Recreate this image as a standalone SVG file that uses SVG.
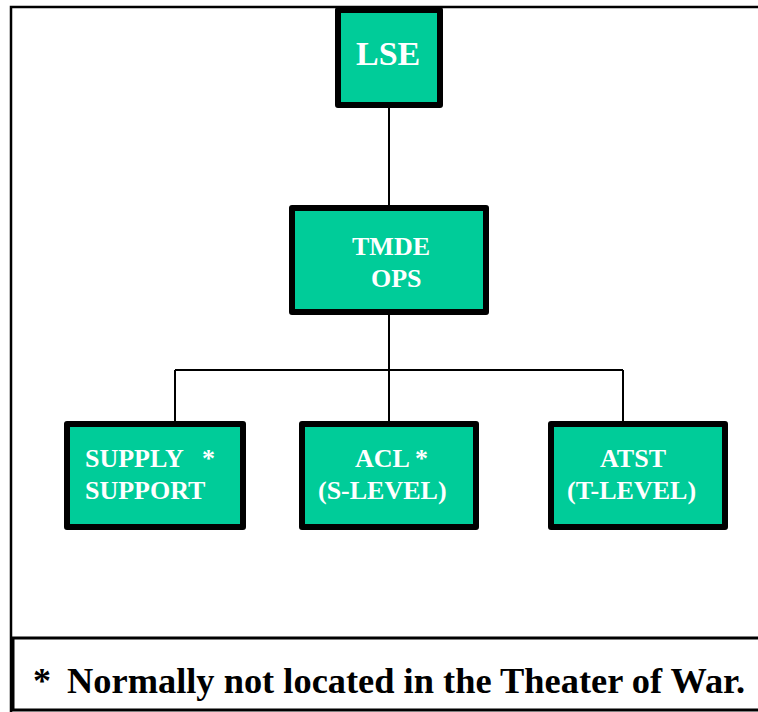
<svg xmlns="http://www.w3.org/2000/svg" width="758" height="712" viewBox="0 0 758 712">
<style>
.box{fill:#00CC99;stroke:#000;stroke-width:6;stroke-linejoin:round}
text{font-family:"Liberation Serif","Times New Roman",Times,Tinos,"Nimbus Roman","Nimbus Roman No9 L","DejaVu Serif","Noto Serif",serif;font-weight:bold}
.lbl{fill:#fff;font-size:26px}
.big{font-size:34px}
.foot{fill:#000;font-size:36px}
.con{stroke:#000;stroke-width:2;fill:none}
.frame{stroke:#000;fill:none}
</style>
<rect x="0" y="0" width="758" height="712" fill="#fff"/>
<path class="frame" stroke-width="2.5" d="M11 712 V7 H758"/>
<g id="connectors">
<path class="con" d="M389 105 V208"/>
<path class="con" d="M389 312 V370"/>
<path class="con" d="M175 370 H623"/>
<path class="con" d="M175 370 V424"/>
<path class="con" d="M389 370 V424"/>
<path class="con" d="M623 370 V424"/>
</g>
<g id="lse">
<rect class="box" x="338" y="10" width="102" height="95"/>
<text class="lbl big" x="356" y="65">LSE</text>
</g>
<g id="tmde">
<rect class="box" x="292" y="208" width="194" height="104"/>
<text class="lbl" x="352" y="255">TMDE</text>
<text class="lbl" x="371" y="287">OPS</text>
</g>
<g id="supply">
<rect class="box" x="67" y="424" width="176" height="103"/>
<text class="lbl" x="85" y="467">SUPPLY</text>
<text class="lbl" x="202" y="467">*</text>
<text class="lbl" x="85" y="499">SUPPORT</text>
</g>
<g id="acl">
<rect class="box" x="302" y="424" width="174" height="103"/>
<text class="lbl" x="355" y="467">ACL *</text>
<text class="lbl" x="318" y="499">(S-LEVEL)</text>
</g>
<g id="atst">
<rect class="box" x="551" y="424" width="174" height="103"/>
<text class="lbl" x="600" y="467">ATST</text>
<text class="lbl" x="567" y="499">(T-LEVEL)</text>
</g>
<g id="footer">
<path class="frame" stroke-width="3" d="M758 638 H13 V710 H758"/>
<text class="foot" x="33" y="693">*</text>
<text class="foot" x="67" y="693" textLength="678" lengthAdjust="spacingAndGlyphs">Normally not located in the Theater of War.</text>
</g>
</svg>
